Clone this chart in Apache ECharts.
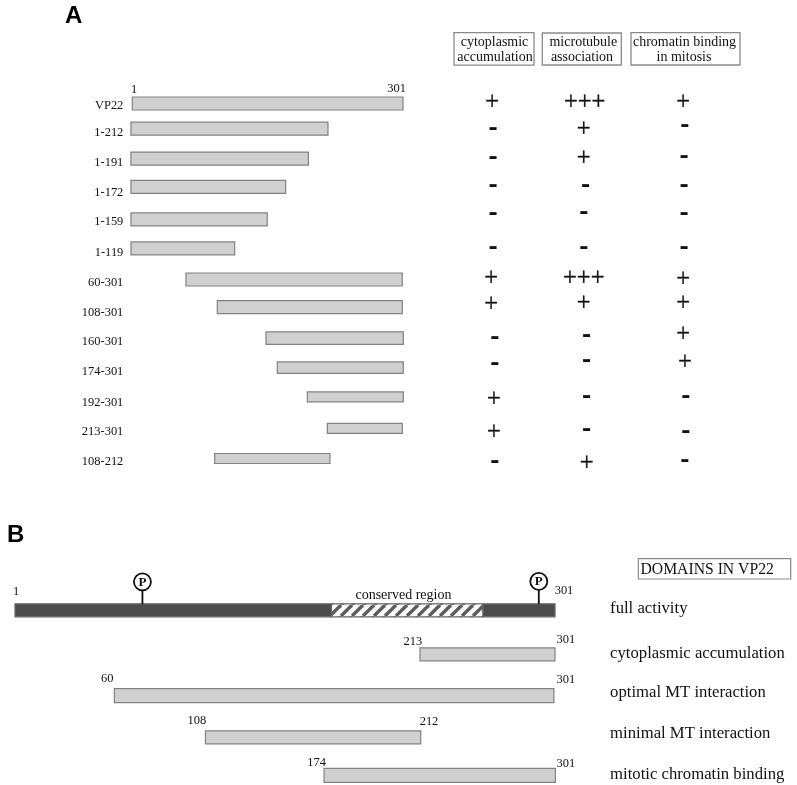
<!DOCTYPE html>
<html><head><meta charset="utf-8">
<style>html,body{margin:0;padding:0;background:#fff}#c{width:797px;height:785px}</style>
<script src="https://cdn.jsdelivr.net/npm/echarts@6/dist/echarts.min.js"></script>
</head><body><div id="c"></div>
<script>
// ---------- Panel A data (residue-axis values as drawn in the picture)
const constructNames = ['VP22','1-212','1-191','1-172','1-159','1-119','60-301','108-301','160-301','174-301','192-301','213-301','108-212'];
const constructStart = [1.9,0.4,0.4,0.4,0.4,0.4,61.2,95.8,149.6,162.1,195.3,217.4,92.9];
const constructEnd   = [301,218.1,196.4,171.4,151,115,300.2,300.2,301.3,301.3,301.3,300.2,220.3];
const constructRow   = [0,0.85,1.86,2.82,3.92,4.9,5.95,6.88,7.93,8.93,9.92,10.98,12];
const constructLabelRow = [0.03,0.96,1.96,2.97,3.97,5,6.02,7.03,8.02,9.04,10.06,11.07,12.08];
const cytoplasmicScore = ['+','-','-','-','-','-','+','+','-','-','+','+','-'];
const microtubuleScore = ['+++','+','+','-','-','-','+++','+','-','-','-','-','+'];
const chromatinScore   = ['+','-','-','-','-','-','+','+','+','+','-','-','-'];
const scoreHeaders = [['cytoplasmic','accumulation'],['microtubule','association'],['chromatin binding','in mitosis']];
const panelAEndLabels = ['1','301'];
const panelAEndResidue = [3.8,294];
const panelAEndRow = [-0.48,-0.53];
// ---------- Panel B data
const mainSegmentStart = [1,176.8,261];
const mainSegmentEnd   = [176.8,261,301];
const phosphoSites = [71.8,292];
const phosphoRow = [-0.69,-0.70];
const domainNames = ['full activity','cytoplasmic accumulation','optimal MT interaction','minimal MT interaction','mitotic chromatin binding'];
const domainNameRow = [-0.06,1.02,1.96,2.96,3.97];
const domainStart = [226,56.2,106.8,172.7];
const domainEnd   = [301,300.4,226.4,301.2];
const domainRow   = [1.07,2.07,3.08,4];
const panelBLabels  = ['1','301','213','301','60','301','108','212','174','301'];
const panelBResidue = [1.6,306,222,307,52.3,307,102,231,168.6,307];
const panelBRow     = [-0.47,-0.49,0.74,0.69,1.65,1.67,2.67,2.68,3.67,3.71];

// ---------- Layout (kept apart from the data)
const scoreColumn = [
 [-0.01,0,0,0,0,0,-0.02,-0.02,0.02,0.02,0.01,0.01,0.02],
 [0.96,0.95,0.95,0.97,0.95,0.95,0.95,0.95,0.98,0.98,0.98,0.98,0.98],
 [1.99,2.01,2,2,2,2,1.99,1.99,1.99,2.01,2.02,2.02,2.01]];
const scoreRow = [
 [-0.08,0.82,1.81,2.75,3.70,4.85,5.88,6.75,7.87,8.76,9.95,11.06,12.08],
 [-0.08,0.84,1.80,2.75,3.67,4.85,5.86,6.70,7.83,8.67,9.89,10.99,12.11],
 [-0.09,0.73,1.75,2.74,3.68,4.85,5.89,6.70,7.75,8.71,9.88,11.07,12.03]];
const barHeightsA = [13,13,13,13,13,13,13,13,12.5,11.5,10,10,10];
const barHeightsB = [13,14,13,14];
const SERIF = '"Liberation Serif","DejaVu Serif",serif';
const BAR_FILL = '#d0d0d0', BAR_EDGE = '#828282', DARK = '#4c4c4c', INK = '#111';

const hatchCanvas = document.createElement('canvas');
hatchCanvas.width = 11; hatchCanvas.height = 11;
(function(){
  const g = hatchCanvas.getContext('2d');
  g.fillStyle = '#fff'; g.fillRect(0,0,11,11);
  g.strokeStyle = '#5c5c5c'; g.lineWidth = 3.4;
  [-11,0,11,22].forEach(function(o){ g.beginPath(); g.moveTo(o,11); g.lineTo(o+11,0); g.stroke(); });
})();

function rectSeries(name, idx, starts, ends, rows, heights, fill, stroke){
  return {type:'custom', name:name, coordinateSystem:'cartesian2d', xAxisIndex:idx, yAxisIndex:idx, silent:true, clip:false,
    data: starts.map(function(s,i){ return [s, ends[i], rows[i], i]; }),
    renderItem:function(p,api){
      const a = api.coord([api.value(0), api.value(2)]);
      const b = api.coord([api.value(1), api.value(2)]);
      const h = heights[api.value(3)];
      return {type:'rect', shape:{x:a[0], y:a[1]-h/2, width:b[0]-a[0], height:h},
        style:{fill:fill(api.value(3)), stroke:stroke, lineWidth:1.2}};
    }};
}
function textSeries(name, idx, texts, xs, rows, font){
  return {type:'custom', name:name, coordinateSystem:'cartesian2d', xAxisIndex:idx, yAxisIndex:idx, silent:true, clip:false,
    data: texts.map(function(t,i){ return [xs[i], rows[i], i]; }),
    renderItem:function(p,api){
      const c = api.coord([api.value(0), api.value(1)]);
      const t = texts[api.value(2)];
      const f = font(t);
      return {type:'text', x:c[0], y:c[1]+(f.dy||0), scaleX:f.sx||1,
        style:{text:t, fontFamily:f.family||SERIF, fontSize:f.size, fontWeight:f.weight||'normal',
               fill:f.fill||INK, stroke:f.stroke||null, lineWidth:f.lw||0, align:f.align||'center', verticalAlign:'middle'}};
    }};
}
const scoreFont = function(t){
  return t==='-' ? {family:'"Liberation Sans"', size:23, weight:'bold', sx:1.2, fill:'#111', dy:1}
                 : {family:'"Liberation Serif"', size:24.5, fill:'#111', stroke:'#111', lw:0.35, dy:1.5};
};
const smallFont = function(){ return {size:13, sx:0.96, dy:0.5}; };
const allScores = [cytoplasmicScore, microtubuleScore, chromatinScore];
const scoreSeries = allScores.map(function(vals,k){
  return textSeries('score'+k, 1, vals, scoreColumn[k], scoreRow[k], scoreFont);
});
function headerText(text, x, y){
  return {type:'text', x:x, y:y, style:{text:text, font:'14px '+SERIF, fill:INK, align:'center', verticalAlign:'middle'}};
}

const chart = echarts.init(document.getElementById('c'), null, {renderer:'canvas'});
chart.setOption({
  animation:false,
  backgroundColor:'#fff',
  grid:[
    {left:131.5, width:271.5, top:103.5, height:355},
    {left:493, width:191, top:103.5, height:355},
    {left:15, width:540, top:610.3, height:165}
  ],
  xAxis:[
    {type:'value', gridIndex:0, min:1, max:301, show:false},
    {type:'value', gridIndex:1, min:0, max:2, show:false},
    {type:'value', gridIndex:2, min:1, max:301, show:false}
  ],
  yAxis:[
    {type:'value', gridIndex:0, min:0, max:12, inverse:true, show:false},
    {type:'value', gridIndex:1, min:0, max:12, inverse:true, show:false},
    {type:'value', gridIndex:2, min:0, max:4, inverse:true, show:false}
  ],
  graphic:[
    {type:'text', left:65, top:4, style:{text:'A', font:'900 24px "Liberation Sans"', fill:'#000'}},
    {type:'text', left:7, top:523, style:{text:'B', font:'900 24px "Liberation Sans"', fill:'#000'}},
    {type:'rect', shape:{x:454,y:32.7,width:80,height:32.5}, style:{fill:'#fff',stroke:'#8a8a8a',lineWidth:1.3}},
    {type:'rect', shape:{x:542.3,y:33,width:79,height:32}, style:{fill:'#fff',stroke:'#8a8a8a',lineWidth:1.3}},
    {type:'rect', shape:{x:631,y:32.7,width:109,height:32.3}, style:{fill:'#fff',stroke:'#8a8a8a',lineWidth:1.3}},
    {type:'rect', shape:{x:638.3,y:558.7,width:152.4,height:20.3}, style:{fill:'#fff',stroke:'#8a8a8a',lineWidth:1.2}},
    headerText(scoreHeaders[0][0], 494.5, 42.5),
    headerText(scoreHeaders[0][1], 495, 57),
    headerText(scoreHeaders[1][0], 583.3, 42.5),
    headerText(scoreHeaders[1][1], 582, 57),
    headerText(scoreHeaders[2][0], 684.5, 42.5),
    headerText(scoreHeaders[2][1], 684, 57),
    {type:'text', x:640.5, y:569.5, style:{text:'DOMAINS IN VP22', font:'15.7px '+SERIF, fill:INK, align:'left', verticalAlign:'middle'}}
  ],
  series:[
    rectSeries('constructs',0,constructStart,constructEnd,constructRow,barHeightsA,function(){return BAR_FILL;},BAR_EDGE),
    textSeries('construct names',0,constructNames,constructNames.map(function(){return -8;}),constructLabelRow,function(){return {size:13,sx:0.96,align:'right',dy:1};}),
    textSeries('panel A ends',0,panelAEndLabels,panelAEndResidue,panelAEndRow,smallFont)
  ].concat(scoreSeries).concat([
    rectSeries('full protein',2,mainSegmentStart,mainSegmentEnd,[0,0,0],[13,13,13],function(i){return i===1?{image:hatchCanvas,repeat:'repeat'}:DARK;},'#666'),
    {type:'custom', name:'phosphorylation sites', coordinateSystem:'cartesian2d', xAxisIndex:2, yAxisIndex:2, silent:true, clip:false,
     data: phosphoSites.map(function(s,i){return [s, phosphoRow[i]];}),
     renderItem:function(p,api){
       const c = api.coord([api.value(0), api.value(1)]);
       const base = api.coord([api.value(0), 0]);
       return {type:'group', children:[
         {type:'line', shape:{x1:c[0],y1:c[1],x2:c[0],y2:base[1]-6}, style:{stroke:'#111',lineWidth:1.8}},
         {type:'circle', shape:{cx:c[0],cy:c[1],r:8.5}, style:{fill:'#fff',stroke:'#111',lineWidth:1.8}},
         {type:'text', x:c[0], y:c[1]+0.5, style:{text:'P', fontFamily:SERIF, fontSize:13, fontWeight:'bold', fill:'#111', align:'center', verticalAlign:'middle'}}
       ]};
     }},
    rectSeries('domains',2,domainStart,domainEnd,domainRow,barHeightsB,function(){return BAR_FILL;},BAR_EDGE),
    textSeries('conserved',2,['conserved region'],[216.8],[-0.37],function(){return {size:14};}),
    textSeries('panel B ends',2,panelBLabels,panelBResidue,panelBRow,smallFont),
    textSeries('domain names',2,domainNames,domainNames.map(function(){return 331.6;}),domainNameRow,function(){return {size:16.7,align:'left',dy:1};})
  ])
});
</script></body></html>
